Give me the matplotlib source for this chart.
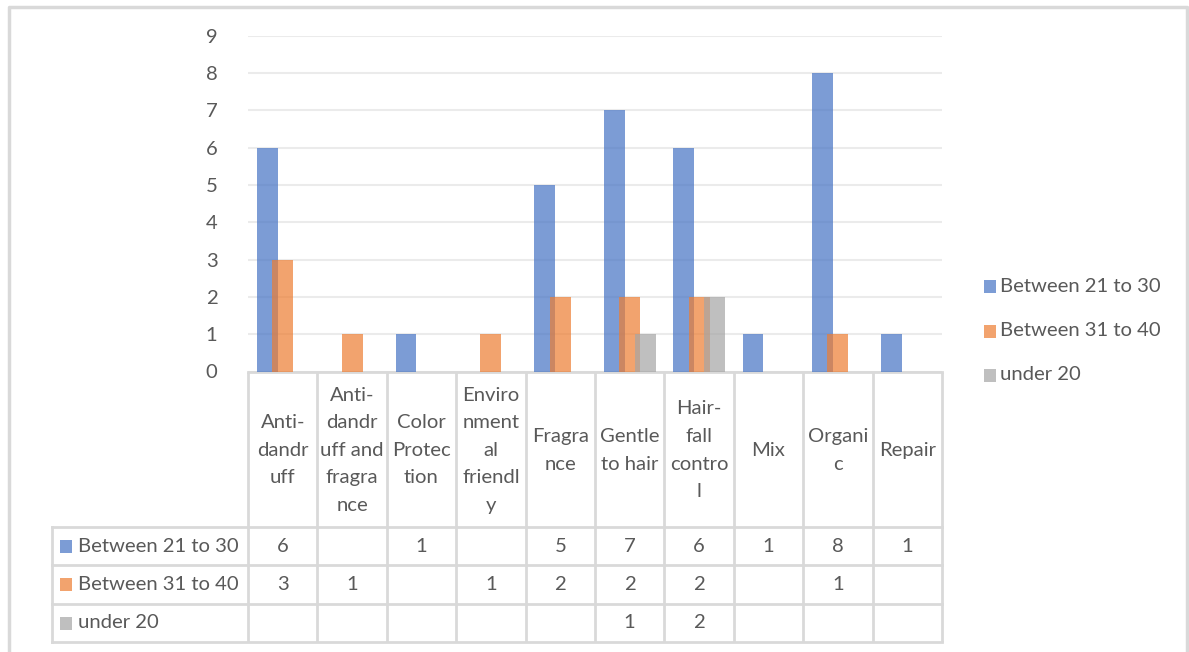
import matplotlib
matplotlib.use("Agg")
import matplotlib.pyplot as plt
import numpy as np

# chart data
categories = [
    "Anti-dandruff",
    "Anti-dandruff and fragrance",
    "Color Protection",
    "Environmental friendly",
    "Fragrance",
    "Gentle to hair",
    "Hair-fall control",
    "Mix",
    "Organic",
    "Repair",
]
# the way the category names wrap inside the table header
wrapped_labels = [
    ["Anti-", "dandr", "uff"],
    ["Anti-", "dandr", "uff and", "fragra", "nce"],
    ["Color", "Protec", "tion"],
    ["Enviro", "nment", "al", "friendl", "y"],
    ["Fragra", "nce"],
    ["Gentle", "to hair"],
    ["Hair-", "fall", "contro", "l"],
    ["Mix"],
    ["Organi", "c"],
    ["Repair"],
]
series_names = ["Between 21 to 30", "Between 31 to 40", "under 20"]
age_21_30 = [6, None, 1, None, 5, 7, 6, 1, 8, 1]
age_31_40 = [3, 1, None, 1, 2, 2, 2, None, 1, None]
under_20 = [None, None, None, None, None, 1, 2, None, None, None]
yticks = list(range(0, 10))

series = [age_21_30, age_31_40, under_20]
colors = ["#4472C4", "#ED7D31", "#A5A5A5"]
bar_alpha = 0.7

W, H = 1189, 652
fig = plt.figure(figsize=(W / 100, H / 100), dpi=100)
fig.patch.set_facecolor("white")

text_color = "#595959"
line_color = "#D9D9D9"
fsize = 14.6
font = "Lato"

# plot area in pixels
left_px, right_px = 248, 942
top_px, zero_px = 35.7, 371.5
table_left = 52
row_lines = [zero_px, 527, 565, 604, 642]

ax = fig.add_axes([left_px / W, (H - zero_px) / H, (right_px - left_px) / W, (zero_px - top_px) / H])
x = np.arange(len(categories))
offsets = [-0.223, 0.0, 0.223]
for vals, off, c in zip(series, offsets, colors):
    heights = [v if v is not None else 0 for v in vals]
    ax.bar(x + off, heights, width=0.30, color=c, alpha=bar_alpha, zorder=3, linewidth=0)

ax.set_xlim(-0.5, len(categories) - 0.5)
ax.set_ylim(0, 9)
ax.set_yticks(yticks)
ax.set_yticklabels([str(t) for t in yticks], fontsize=fsize, color=text_color, family=font)
ax.tick_params(axis="y", length=0, pad=22)
ax.set_xticks([])
ax.grid(axis="y", color="#EBEBEB", linewidth=1.5, zorder=0)
for s in ["top", "right", "left"]:
    ax.spines[s].set_visible(False)
ax.spines["bottom"].set_color(line_color)
ax.spines["bottom"].set_linewidth(2)
ax.patch.set_visible(False)

# overlay in pixel coordinates for the data table, legend and border
ov = fig.add_axes([0, 0, 1, 1], zorder=-1)
ov.set_xlim(0, W)
ov.set_ylim(H, 0)
ov.axis("off")

n = len(categories)
col_w = (right_px - left_px) / n
col_edges = [left_px + i * col_w for i in range(n + 1)]

# vertical table lines
for i, xe in enumerate(col_edges):
    ov.plot([xe, xe], [zero_px, row_lines[-1]], color=line_color, lw=2, solid_capstyle="butt")
ov.plot([table_left, table_left], [row_lines[1], row_lines[-1]], color=line_color, lw=2)
# horizontal table lines
for yl in row_lines[1:]:
    ov.plot([table_left, right_px], [yl, yl], color=line_color, lw=2)

# header: wrapped category names
line_gap = 27.5
header_mid = (zero_px + row_lines[1]) / 2 + 1
for i, lines in enumerate(wrapped_labels):
    cx = left_px + (i + 0.5) * col_w
    k = len(lines)
    for j, ln in enumerate(lines):
        cy = header_mid + (j - (k - 1) / 2) * line_gap
        ov.text(cx, cy, ln, ha="center", va="center", fontsize=fsize, color=text_color, family=font)

# table rows
for r, (name, vals, c) in enumerate(zip(series_names, series, colors)):
    cy = (row_lines[r + 1] + row_lines[r + 2]) / 2
    ov.add_patch(plt.Rectangle((60, cy - 6.5), 12, 13, color=c, alpha=bar_alpha, lw=0))
    ov.text(78, cy, name, ha="left", va="center", fontsize=fsize, color=text_color, family=font)
    for i, v in enumerate(vals):
        if v is None:
            continue
        cx = left_px + (i + 0.5) * col_w
        ov.text(cx, cy, str(v), ha="center", va="center", fontsize=fsize, color=text_color, family=font)

# legend
legend_y = [286, 331, 375]
for name, c, ly in zip(series_names, colors, legend_y):
    ov.add_patch(plt.Rectangle((984, ly - 6.5), 12, 13, color=c, alpha=bar_alpha, lw=0))
    ov.text(1000, ly, name, ha="left", va="center", fontsize=fsize, color=text_color, family=font)

# chart border
ov.plot([9, 9, 1187, 1187], [H + 5, 6.5, 6.5, H + 5], color=line_color, lw=2.5)

fig.savefig("out.png", dpi=100)
